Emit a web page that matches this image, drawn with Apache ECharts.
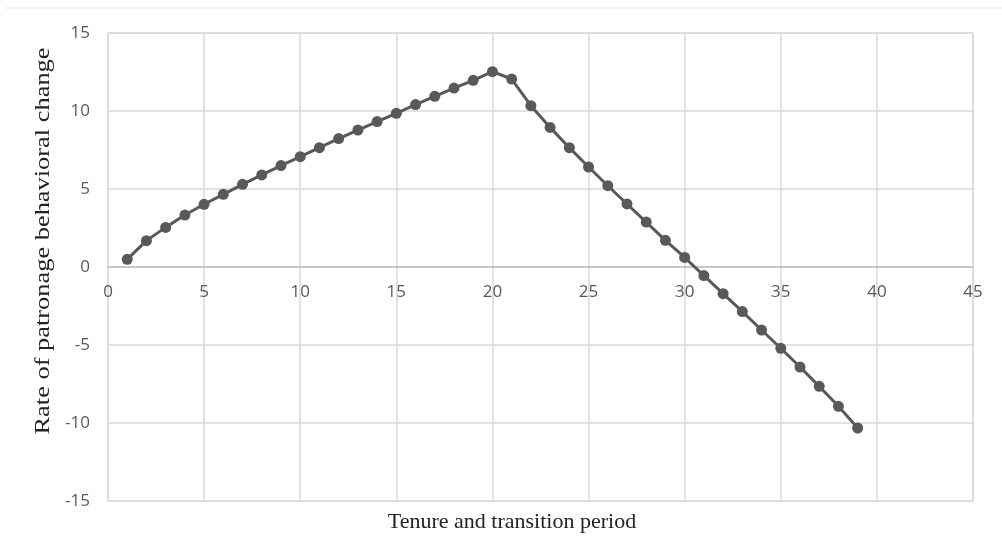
<!DOCTYPE html>
<html>
<head>
<meta charset="utf-8">
<style>html,body{margin:0;padding:0;background:#fff;}#c{width:1002px;height:557px;}</style>
<script src="https://cdn.jsdelivr.net/npm/echarts@6/dist/echarts.min.js"></script>
</head>
<body>
<div id="c"></div>
<script>
const periods = [1,2,3,4,5,6,7,8,9,10,11,12,13,14,15,16,17,18,19,20,21,22,23,24,25,26,27,28,29,30,31,32,33,34,35,36,37,38,39];
const rates = [0.49,1.69,2.54,3.33,4.02,4.66,5.30,5.90,6.50,7.07,7.65,8.23,8.78,9.32,9.85,10.41,10.94,11.47,11.97,12.52,12.05,10.34,8.95,7.65,6.41,5.21,4.04,2.88,1.71,0.61,-0.55,-1.71,-2.86,-4.04,-5.21,-6.41,-7.65,-8.93,-10.32];
const xTitle = 'Tenure and transition period';
const yTitle = 'Rate of patronage behavioral change';

const chart = echarts.init(document.getElementById('c'), null, {renderer:'canvas'});
const tickFont = {color:'#595959', fontSize:17, fontFamily:'"Open Sans", Carlito, sans-serif'};
chart.setOption({
  animation:false,
  backgroundColor:'#fff',
  grid:{left:108, right:29, top:33, bottom:56, show:true, borderColor:'#d9d9d9', borderWidth:1},
  graphic:[
    {type:'line', shape:{x1:6,y1:8,x2:1002,y2:8}, style:{stroke:'#e3e3e3', lineWidth:1}},
    {type:'text', x:512, y:522, style:{text:xTitle, font:'22px "Liberation Serif", "Times New Roman", serif', fill:'#222', align:'center', verticalAlign:'middle'}},
    {type:'text', x:43, y:241, rotation:Math.PI/2, scaleX:1.2, style:{text:yTitle, font:'22px "Liberation Serif", "Times New Roman", serif', fill:'#222', align:'center', verticalAlign:'middle'}}
  ],
  xAxis:{
    type:'value', min:0, max:45, interval:5,
    position:'bottom', offset:-234,
    axisLine:{show:true, onZero:false, lineStyle:{color:'#bfbfbf', width:1.5}},
    axisTick:{show:false},
    axisLabel:Object.assign({margin:17}, tickFont),
    splitLine:{show:true, lineStyle:{color:'#d9d9d9', width:1.5}}
  },
  yAxis:{
    type:'value', min:-15, max:15, interval:5,
    axisLine:{show:false},
    axisTick:{show:false},
    axisLabel:Object.assign({margin:18}, tickFont),
    splitLine:{show:true, lineStyle:{color:'#d9d9d9', width:1.5}}
  },
  series:[{
    type:'line',
    data:periods.map((p,i)=>[p, rates[i]]),
    symbol:'circle', symbolSize:11,
    lineStyle:{color:'#595959', width:3},
    itemStyle:{color:'#595959'},
    z:5
  }]
});
</script>
</body>
</html>
